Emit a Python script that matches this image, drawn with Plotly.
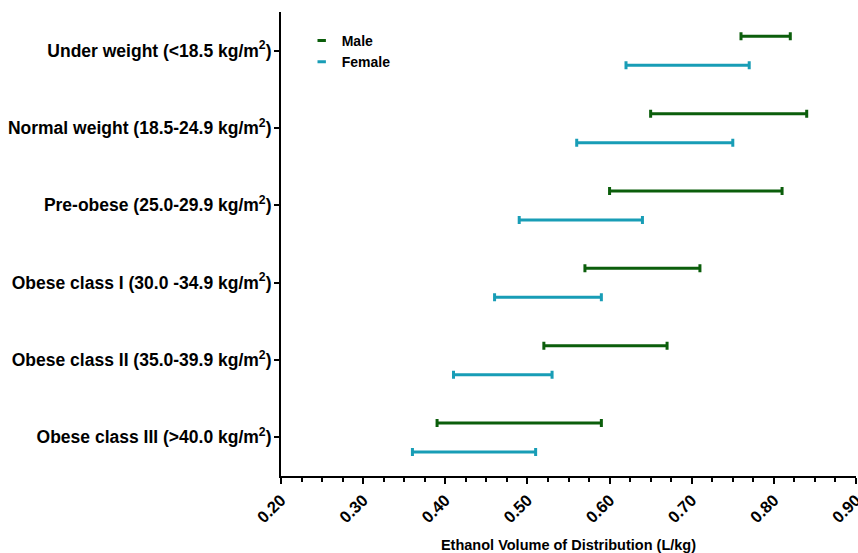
import plotly.graph_objects as go

categories = [
    "Under weight (<18.5 kg/m<sup>2</sup>)",
    "Normal weight (18.5-24.9 kg/m<sup>2</sup>)",
    "Pre-obese (25.0-29.9 kg/m<sup>2</sup>)",
    "Obese class I (30.0 -34.9 kg/m<sup>2</sup>)",
    "Obese class II (35.0-39.9 kg/m<sup>2</sup>)",
    "Obese class III (>40.0 kg/m<sup>2</sup>)",
]
male_low = [0.76, 0.65, 0.60, 0.57, 0.52, 0.39]
male_high = [0.82, 0.84, 0.81, 0.71, 0.67, 0.59]
female_low = [0.62, 0.56, 0.49, 0.46, 0.41, 0.36]
female_high = [0.77, 0.75, 0.64, 0.59, 0.53, 0.51]
x_ticks = [0.20, 0.30, 0.40, 0.50, 0.60, 0.70, 0.80, 0.90]
x_tick_labels = ["0.20", "0.30", "0.40", "0.50", "0.60", "0.70", "0.80", "0.90"]

MALE_COLOR = "#0b5e0b"
FEMALE_COLOR = "#189db6"
FONT = "Arial, 'Liberation Sans', sans-serif"

fig = go.Figure()

def add_series(name, lows, highs, offset, color):
    mids = [(a + b) / 2 for a, b in zip(lows, highs)]
    half = [(b - a) / 2 for a, b in zip(lows, highs)]
    ys = [i + offset for i in range(len(lows))]
    fig.add_trace(go.Scatter(
        x=mids, y=ys, mode="markers", name=name, showlegend=False,
        marker=dict(size=1, color=color, opacity=0),
        error_x=dict(type="data", array=half, symmetric=True,
                     color=color, thickness=3, width=4),
    ))
    # legend entry (short dash)
    fig.add_trace(go.Scatter(
        x=[None], y=[None], mode="markers", name=name, showlegend=True,
        marker=dict(symbol="line-ew", size=6, color=color,
                    line=dict(color=color, width=3)),
    ))

add_series("Male", male_low, male_high, -0.185, MALE_COLOR)
add_series("Female", female_low, female_high, 0.19, FEMALE_COLOR)

fig.update_layout(
    width=858, height=553,
    margin=dict(l=281, r=2, t=12, b=77),
    plot_bgcolor="white", paper_bgcolor="white",
    font=dict(family=FONT, color="black", size=14, weight="bold"),
    showlegend=True,
    legend=dict(x=0.036, y=0.972, xanchor="left", yanchor="top",
                bgcolor="rgba(0,0,0,0)", font=dict(size=14, weight="bold"),
                itemwidth=30, tracegroupgap=0),
)
fig.update_xaxes(
    range=[0.2, 0.9], tickvals=x_ticks, ticktext=x_tick_labels,
    tickangle=-45, showgrid=False, zeroline=False, automargin=False,
    ticklabeloverflow="allow",
    showline=True, linecolor="black", linewidth=2,
    ticks="outside", ticklen=6, tickwidth=2, tickcolor="black",
    minor=dict(dtick=0.025, tick0=0.2, ticks="outside", ticklen=4,
               tickwidth=1.5, tickcolor="black", showgrid=False),
    tickfont=dict(size=16.5, weight="bold"),
    title=dict(text="Ethanol Volume of Distribution (L/kg)",
               font=dict(size=14.5, weight="bold"), standoff=16),
)
fig.update_yaxes(
    range=[5.5, -0.5], tickvals=list(range(len(categories))), ticktext=categories,
    showgrid=False, zeroline=False, automargin=False,
    showline=True, linecolor="black", linewidth=2,
    ticks="outside", ticklen=5, tickwidth=1.5, tickcolor="black",
    ticklabelstandoff=-1,
    tickfont=dict(size=17.5, weight="bold"),
)

fig.write_html(
    "out.html",
    config={"displayModeBar": False},
    post_script="document.body.style.margin='0';document.body.style.overflow='hidden';",
)
